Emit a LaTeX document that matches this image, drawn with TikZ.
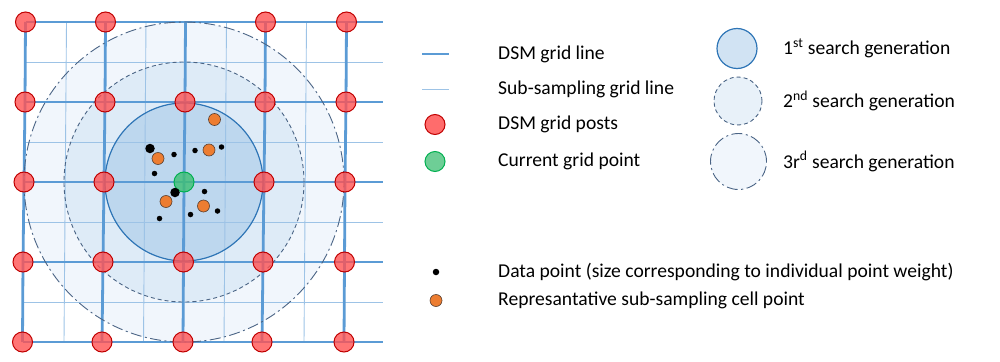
\documentclass[tikz,border=0pt]{standalone}
\usepackage{fontspec}
\setmainfont{Carlito}
\definecolor{gridblue}{HTML}{5B9BD5}
\definecolor{subblue}{HTML}{9DC3E6}
\definecolor{genAfill}{HTML}{BDD7EE}
\definecolor{genBfill}{HTML}{DEEBF7}
\definecolor{genCfill}{HTML}{F1F6FC}
\definecolor{genAline}{HTML}{2E75B6}
\definecolor{genline}{HTML}{4A6485}
\definecolor{postfill}{HTML}{FF5252}
\definecolor{postline}{HTML}{C00000}
\definecolor{curfill}{HTML}{3DBE73}
\definecolor{curline}{HTML}{00B050}
\definecolor{orangefill}{HTML}{ED7D31}
\definecolor{orangeline}{HTML}{5A4030}
\begin{document}
\begin{tikzpicture}[x=1pt,y=-1pt,
  thickline/.style={draw=gridblue,line width=2.8pt},
  thinline/.style={draw=subblue,line width=0.9pt},
  post/.style={circle,inner sep=0pt,minimum size=20pt,draw=postline,line width=1pt,fill=postfill,fill opacity=0.8},
  curpt/.style={circle,inner sep=0pt,minimum size=20pt,draw=curline,line width=1pt,fill=curfill,fill opacity=0.8},
  datapt/.style={circle,inner sep=0pt,fill=black,minimum size=#1},
  reppt/.style={circle,inner sep=0pt,minimum size=12pt,draw=orangeline,line width=0.6pt,fill=orangefill},
  genA/.style={circle,inner sep=0pt,draw=genAline,line width=1.2pt},
  genB/.style={circle,inner sep=0pt,draw=genline,line width=0.9pt,dash pattern=on 4pt off 3pt},
  genC/.style={circle,inner sep=0pt,draw=genline,line width=0.9pt,dash pattern=on 11pt off 3.5pt on 2pt off 3.5pt},
  lbl/.style={anchor=west,inner sep=0pt,font=\fontsize{19.6}{23}\selectfont}
]
\useasboundingbox (0,0) rectangle (1000,361);
% search generation fills
\node[circle,inner sep=0pt,minimum size=320pt,fill=genCfill] (f3) at (184,182) {};
\node[circle,inner sep=0pt,minimum size=240pt,fill=genBfill] (f2) at (184,182) {};
\node[circle,inner sep=0pt,minimum size=158pt,fill=genAfill] (f1) at (184,182) {};
% sub-sampling grid
\coordinate (sv1a) at (66.5,22); \coordinate (sv1b) at (64,342);
\coordinate (sv2a) at (146,22); \coordinate (sv2b) at (143.5,342);
\coordinate (sv3a) at (226.5,22); \coordinate (sv3b) at (224,342);
\coordinate (sv4a) at (306.5,22); \coordinate (sv4b) at (304,342);
\coordinate (sh1a) at (25,62); \coordinate (sh1b) at (383,62);
\coordinate (sh2a) at (24,142); \coordinate (sh2b) at (383,142);
\coordinate (sh3a) at (23,222); \coordinate (sh3b) at (383,222);
\coordinate (sh4a) at (22.5,302); \coordinate (sh4b) at (383,302);
\foreach \i in {1,...,4} {
  \draw[thinline] (sv\i a) -- (sv\i b);
  \draw[thinline] (sh\i a) -- (sh\i b);
}
% DSM posts positions
\coordinate (c11) at (25.5,22);  \coordinate (c12) at (105.5,22); \coordinate (c13) at (185.5,22); \coordinate (c14) at (265.5,22); \coordinate (c15) at (346.5,22);
\coordinate (c21) at (25,102);   \coordinate (c22) at (105,102);  \coordinate (c23) at (185,102);  \coordinate (c24) at (265,102);  \coordinate (c25) at (346,102);
\coordinate (c31) at (24,182);   \coordinate (c32) at (104,182);  \coordinate (c33) at (184,182);  \coordinate (c34) at (264,182);  \coordinate (c35) at (345,182);
\coordinate (c41) at (23,262);   \coordinate (c42) at (103,262);  \coordinate (c43) at (183.5,262);\coordinate (c44) at (263,262);  \coordinate (c45) at (344.5,262);
\coordinate (c51) at (22.5,342); \coordinate (c52) at (102,342);  \coordinate (c53) at (183,342);  \coordinate (c54) at (262,342);  \coordinate (c55) at (344,342);
\coordinate (e1) at (383,22); \coordinate (e2) at (383,102); \coordinate (e3) at (383,182); \coordinate (e4) at (383,262); \coordinate (e5) at (383,342);
\foreach \j in {1,...,5} {
  \draw[thickline] (c1\j) -- (c2\j) -- (c3\j) -- (c4\j) -- (c5\j);
}
\foreach \i in {1,...,5} {
  \draw[thickline] (c\i1) -- (e\i);
}
% search generation outlines
\node[genC,minimum size=320pt] (g3) at (184,182) {};
\node[genB,minimum size=240pt] (g2) at (184,182) {};
\node[genA,minimum size=158pt] (g1) at (184,182) {};
% posts
\foreach \i/\j in {1/1,1/2,1/4,1/5,2/1,2/2,2/3,2/4,2/5,3/1,3/2,3/4,3/5,4/1,4/2,4/3,4/4,4/5,5/1,5/2,5/3,5/4,5/5} {
  \node[post] (p\i\j) at (c\i\j) {};
}
\node[curpt] (cur) at (c33) {};
% data points
\node[datapt=9.5pt] (d1) at (150,148.5) {};
\node[datapt=9.5pt] (d2) at (175,192.5) {};
\node[datapt=5.5pt] (d3) at (174,154.5) {};
\node[datapt=5.5pt] (d4) at (195,150.5) {};
\node[datapt=5.5pt] (d5) at (221.5,147) {};
\node[datapt=5.5pt] (d6) at (154.5,173.5) {};
\node[datapt=5.5pt] (d7) at (204.5,191.5) {};
\node[datapt=5.5pt] (d8) at (190.5,214.5) {};
\node[datapt=5.5pt] (d9) at (217.5,211) {};
\node[datapt=5.5pt] (d10) at (159.5,218.5) {};
% representative points
\node[reppt] (r1) at (214.5,119.5) {};
\node[reppt] (r2) at (209,150) {};
\node[reppt] (r3) at (158,158.5) {};
\node[reppt] (r4) at (166,201.5) {};
\node[reppt] (r5) at (203.5,206) {};
% legend left
\coordinate (la1) at (422,54); \coordinate (lb1) at (449,54);
\draw[thickline] (la1) -- (lb1);
\node[lbl] (t1) at (498,54) {DSM grid line};
\coordinate (la2) at (422,89); \coordinate (lb2) at (449,89);
\draw[thinline] (la2) -- (lb2);
\node[lbl] (t2) at (498,89) {Sub-sampling grid line};
\node[post,fill opacity=0.85] (lp) at (435,124.5) {};
\node[lbl] (t3) at (498,124.5) {DSM grid posts};
\node[curpt,fill opacity=0.75] (lc) at (435,161.5) {};
\node[lbl] (t4) at (498,161.5) {Current grid point};
% legend right
\node[genA,minimum size=40pt,fill=genAfill!70] (lg1) at (737,48.5) {};
\node[lbl] (t5) at (783,48.5) {1\textsuperscript{st} search generation};
\node[genB,minimum size=48pt,fill=genBfill!70] (lg2) at (738,101) {};
\node[lbl] (t6) at (783,101) {2\textsuperscript{nd} search generation};
\node[genC,minimum size=56pt,fill=genCfill] (lg3) at (738.5,161.5) {};
\node[lbl] (t7) at (783,161.5) {3r\textsuperscript{d} search generation};
% legend bottom
\node[datapt=6.5pt] (ld) at (436,272) {};
\node[lbl] (t8) at (498,272) {Data point (size corresponding to individual point weight)};
\node[reppt] (lr) at (436,300.5) {};
\node[lbl] (t9) at (498,300.5) {Represantative sub-sampling cell point};
\end{tikzpicture}
\end{document}
